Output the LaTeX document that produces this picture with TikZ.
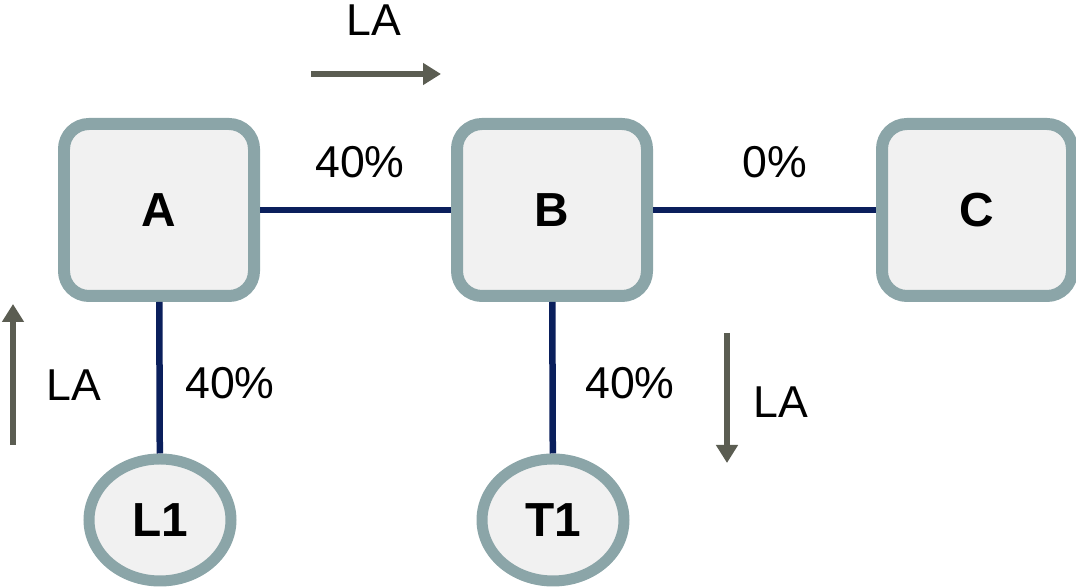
\documentclass[tikz,border=0pt]{standalone}
\usepackage{fontspec}
\setmainfont{Liberation Sans}
\usetikzlibrary{shapes.geometric,arrows.meta}
\definecolor{rim}{HTML}{8BA5A8}
\definecolor{pale}{HTML}{F1F1F1}
\definecolor{navy}{HTML}{0A1F5C}
\definecolor{flow}{HTML}{5B5D52}
\begin{document}
\begin{tikzpicture}[font=\fontsize{12.7}{15}\selectfont,
  station/.style={draw=rim,fill=pale,line width=0.12cm,rounded corners=0.25cm,
    minimum width=1.9cm,minimum height=1.72cm,font=\fontsize{13.6}{16}\selectfont\bfseries},
  terminal/.style={ellipse,draw=rim,fill=pale,line width=0.11cm,
    minimum width=1.42cm,minimum height=1.22cm,font=\fontsize{13.6}{16}\selectfont\bfseries},
  link/.style={draw=navy,line width=0.065cm},
  dir/.style={draw=flow,line width=0.055cm,-{Triangle[length=0.18cm,width=0.21cm]}}]
  \useasboundingbox (0,0) rectangle (10.76,-5.87);
  \node[station] (A) at (1.59,-2.10) {A};
  \node[station] (B) at (5.52,-2.10) {B};
  \node[station] (C) at (9.77,-2.10) {C};
  \node[terminal] (L1) at (1.60,-5.20) {L1};
  \node[terminal] (T1) at (5.53,-5.20) {T1};
  \draw[link] (A) -- (B);
  \draw[link] (B) -- (C);
  \draw[link] (A) -- (L1);
  \draw[link] (B) -- (T1);
  \node (pAB) at (3.60,-1.62) {40\%};
  \node (pBC) at (7.75,-1.62) {0\%};
  \node (pAL) at (2.30,-3.83) {40\%};
  \node (pBT) at (6.30,-3.83) {40\%};
  % load flow arrows
  \coordinate (t0) at (3.11,-0.74);
  \coordinate (t1) at (4.41,-0.74);
  \draw[dir] (t0) -- (t1);
  \node (laT) at (3.74,-0.20) {LA};
  \coordinate (l0) at (0.13,-4.45);
  \coordinate (l1) at (0.13,-3.04);
  \draw[dir] (l0) -- (l1);
  \node (laL) at (0.74,-3.85) {LA};
  \coordinate (r0) at (7.27,-3.33);
  \coordinate (r1) at (7.27,-4.63);
  \draw[dir] (r0) -- (r1);
  \node (laR) at (7.81,-4.02) {LA};
\end{tikzpicture}
\end{document}
